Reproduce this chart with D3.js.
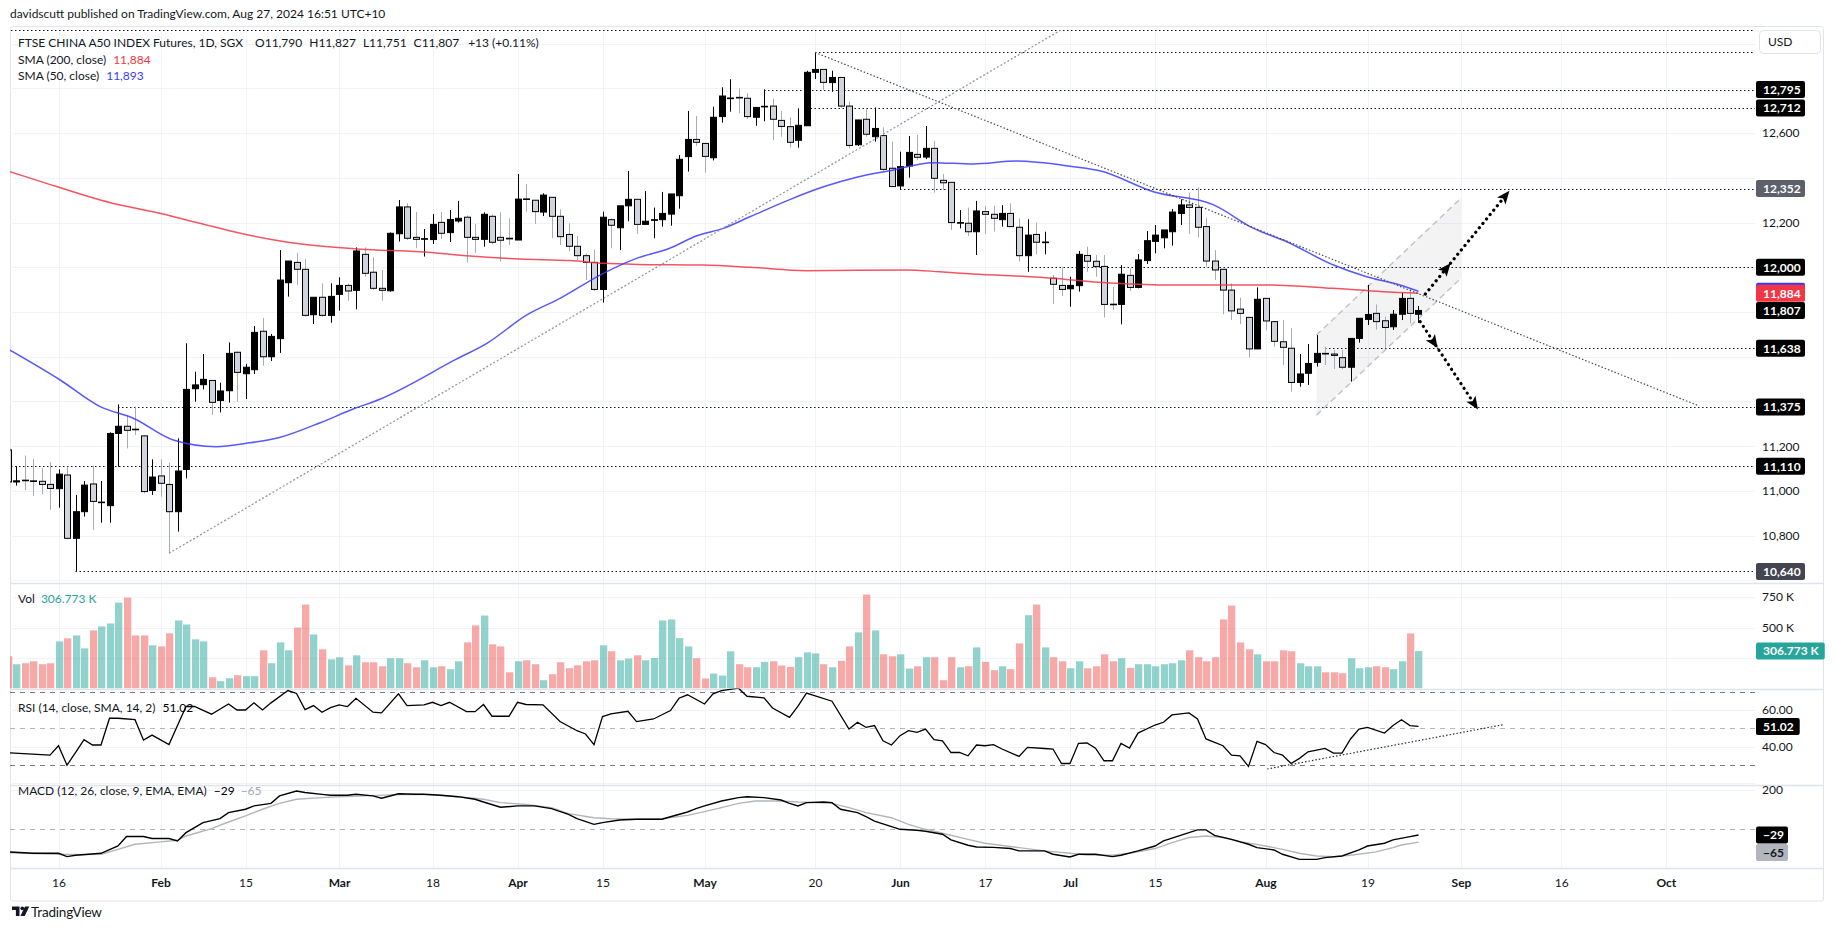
<!DOCTYPE html>
<html><head><meta charset="utf-8">
<script src="https://cdn.jsdelivr.net/npm/d3@7/dist/d3.min.js"></script>
<style>
html,body{margin:0;padding:0;background:#fff;}
svg{display:block;font-family:Lato,"Liberation Sans",Arial,sans-serif;}
</style></head>
<body>
<svg id="chart" width="1835" height="931"></svg>
<script>
// ---------------- DATA ----------------
const firstBar = -1; // bar index of first candle (Jan 8, 2024); one bar per weekday
const opens = [11183,
11040,11048,11045,11043,11029,11010,11071,10788,10907,11031,
10948,10934,11257,11289,11276,11246,11002,11067,11029,10907,
11096,11457,11475,11494,11404,11448,11620,11524,11542,11714,
11600,11681,11931,12022,11991,11788,11866,11785,11879,11919,
11897,12058,11978,11906,11895,12150,12270,12134,12126,12124,
12201,12155,12207,12224,12134,12125,12228,12134,12130,12122,
12306,12300,12247,12313,12228,12147,12094,12052,12022,11901,
12213,12177,12275,12304,12192,12210,12213,12238,12320,12495,
12572,12554,12490,12674,12755,12760,12756,12671,12718,12721,
12657,12629,12568,12633,12872,12885,12826,12849,12721,12548,
12662,12584,12589,12443,12364,12453,12505,12493,12532,12389,
12380,12198,12197,12159,12249,12237,12213,12241,12179,12052,
12147,12111,11951,11919,11904,11918,12053,12027,12004,11835,
11834,11964,11910,12030,12116,12132,12159,12241,12279,12268,
12182,12028,11991,11898,11813,11776,11635,11861,11757,11667,
11638,11485,11526,11575,11615,11612,11596,11553,11682,11767,
11794,11761,11734,11790,11861,11790];
const highs = [11185,
11111,11158,11143,11101,11128,11096,11108,10982,11044,11113,
11044,11262,11387,11338,11377,11250,11141,11141,11126,11235,
11660,11533,11612,11494,11484,11664,11623,11568,11737,11773,
11702,12077,12028,12065,12037,11866,11928,11928,11955,11928,
12089,12089,12045,11988,12156,12301,12286,12247,12171,12238,
12247,12256,12297,12232,12194,12246,12237,12246,12219,12417,
12373,12300,12331,12313,12259,12197,12140,12062,12080,12249,
12219,12275,12431,12304,12341,12267,12337,12328,12502,12699,
12677,12554,12718,12805,12841,12800,12778,12715,12796,12754,
12699,12671,12711,12879,12961,12885,12879,12849,12741,12659,
12706,12715,12626,12562,12517,12587,12592,12632,12566,12417,
12380,12256,12267,12297,12274,12275,12278,12286,12219,12215,
12200,12159,11966,12000,11958,12073,12092,12055,12055,11913,
12010,11995,12059,12162,12189,12167,12261,12304,12334,12357,
12222,12077,11991,11928,11864,11776,11910,11861,11757,11764,
11727,11612,11657,11697,11645,11630,11630,11682,11772,11921,
11834,11779,11809,11886,11906,11827];
const lows = [11030,
11024,11004,10977,10985,10915,10925,10784,10642,10885,10825,
10858,10858,11108,11190,11250,10989,10982,10974,10721,10818,
11056,11399,11454,11339,11351,11395,11399,11411,11523,11560,
11581,11617,11869,11921,11779,11746,11779,11752,11806,11851,
11812,11958,11899,11851,11891,12115,12122,12085,12048,12104,
12127,12113,12200,12021,12065,12092,12103,12025,12100,12122,
12249,12194,12229,12130,12100,12070,12033,11943,11894,11842,
12085,12077,12206,12149,12190,12130,12182,12186,12262,12428,
12543,12423,12478,12647,12696,12689,12663,12633,12653,12569,
12584,12536,12535,12633,12842,12793,12785,12714,12532,12542,
12584,12562,12428,12361,12349,12401,12480,12484,12334,12346,
12167,12174,12140,12055,12149,12160,12182,12182,12025,11980,
12058,12058,11836,11872,11824,11891,11980,11958,11776,11809,
11745,11894,11906,12015,12062,12085,12097,12189,12149,12134,
12003,11943,11790,11764,11746,11597,11635,11717,11645,11563,
11444,11466,11474,11556,11563,11545,11544,11489,11663,11742,
11722,11638,11720,11764,11749,11751];
const closes = [11040,
11045,11046,11042,11029,11011,11075,10788,10907,11026,10953,
10950,11257,11289,11271,11274,10997,11062,11034,10907,11089,
11454,11474,11499,11396,11447,11615,11530,11553,11709,11600,
11691,11943,12028,11991,11785,11866,11785,11870,11919,11894,
12073,11973,11906,11897,12152,12270,12130,12125,12128,12192,
12152,12214,12219,12134,12125,12237,12112,12121,12127,12305,
12304,12249,12323,12228,12137,12094,12052,12022,11901,12224,
12188,12275,12304,12192,12206,12213,12241,12328,12483,12572,
12559,12496,12671,12766,12757,12758,12674,12715,12720,12662,
12630,12559,12635,12872,12885,12827,12849,12721,12545,12659,
12595,12621,12438,12361,12450,12514,12492,12532,12398,12378,
12200,12200,12159,12252,12237,12219,12241,12182,12052,12144,
12112,12113,11924,11901,11919,12058,12027,12003,11834,11833,
11969,11910,12033,12119,12144,12167,12247,12279,12268,12179,
12028,11988,11898,11805,11794,11635,11857,11760,11669,11642,
11485,11523,11570,11615,11614,11606,11553,11682,11772,11789,
11757,11731,11790,11861,11794,11807];
// volume, thousands of contracts
const volumes = [264,
199,207,223,199,207,386,411,435,329,476,
509,533,704,745,435,435,354,345,452,558,
525,403,386,92,60,84,109,101,101,313,
207,378,313,500,688,443,321,239,256,190,
272,215,215,182,248,248,207,174,231,174,
182,158,223,378,517,598,362,345,133,223,
231,199,68,117,215,166,190,223,231,354,
305,231,245,272,231,250,558,566,413,345,
248,82,122,106,305,199,174,174,218,223,
188,177,256,296,288,199,174,226,345,460,
770,476,280,264,280,163,182,256,256,68,
256,174,182,337,218,150,182,158,370,601,
688,337,256,223,166,223,166,182,280,223,
248,169,199,199,182,199,207,231,313,256,
223,256,566,680,378,321,280,223,223,313,
305,207,182,182,133,133,125,248,166,174,
182,174,158,223,451,306.773];
// moving averages: [bar, price]
const sma200 = [[-1,12431],[2.4,12390],[11.1,12289],[16.9,12242],[21.6,12197],[26.4,12152],[31.1,12118],[35.8,12095],[40.5,12081],[47.5,12070],[53.4,12051],[59.3,12037],[65.2,12030],[69.1,12018],[73.1,12013],[80.8,12010],[86.4,12000],[93,11985],[104.8,11988],[108.7,11980],[112.6,11970],[120.5,11955],[127.5,11933],[135.4,11921],[147.1,11921],[154.9,11906],[160.8,11891],[165,11884]];
const sma50 = [[-1,11636],[5.2,11496],[9.9,11377],[13.8,11325],[18.5,11228],[23.6,11198],[27.1,11213],[31.1,11240],[35.8,11305],[39.6,11365],[42.8,11410],[51.8,11589],[55.4,11660],[60.1,11787],[64,11861],[69.1,11973],[73,12040],[76.9,12085],[80.1,12141],[83.2,12174],[86.4,12227],[91.1,12304],[95,12360],[98.9,12403],[102.8,12432],[107.9,12468],[112.6,12462],[117.7,12475],[124.4,12450],[127.5,12432],[133.8,12338],[140.9,12279],[145.6,12174],[149.5,12114],[155,12010],[158.9,11958],[162.8,11921],[165,11893]];
// RSI (14): [bar, value]
const rsiPoints = [[-1,36.7],[4,35.4],[5,40.5],[6,29.9],[7,36.8],[8,43.8],[9,40.9],[10,40.9],[11,55.5],[12,55.5],[14,54.7],[15,43.6],[16,46.3],[18,41.1],[20,61.9],[21,61.9],[23,57.7],[25,63.3],[26,60.0],[27,60.0],[28,63.9],[29,60.0],[30,63.9],[32,70.6],[33,69.0],[34,60.2],[35,62.4],[36,58.8],[37,61.3],[38,62.8],[39,61.9],[40,66.4],[42,58.8],[43,58.4],[45,68.8],[46,62.4],[48,62.8],[49,64.2],[50,62.4],[51,64.2],[53,59.1],[54,59.1],[55,63.0],[56,56.6],[58,56.6],[59,64.2],[60,63.0],[62,62.8],[64,53.7],[66,48.7],[67,46.9],[68,41.1],[69,56.4],[70,57.9],[72,59.3],[73,53.7],[75,55.1],[77,59.7],[78,66.4],[79,68.3],[81,63.3],[82,68.8],[83,70.6],[85,71.9],[86,67.5],[88,66.6],[89,61.1],[91,56.0],[92,62.1],[93,69.2],[96,64.8],[98,49.6],[99,53.3],[100,50.5],[101,51.5],[102,43.2],[103,40.9],[104,46.0],[105,48.7],[106,47.8],[107,49.6],[108,43.8],[109,43.2],[110,36.8],[111,36.8],[112,35.0],[113,40.9],[114,40.5],[115,41.1],[116,38.7],[118,34.7],[119,39.6],[121,39.0],[122,38.7],[123,30.8],[124,30.8],[125,41.8],[126,42.0],[127,39.2],[128,32.3],[129,32.3],[130,41.8],[131,39.2],[132,47.4],[134,51.8],[135,53.3],[136,57.3],[138,58.4],[139,55.1],[140,44.2],[142,40.5],[143,35.4],[144,35.0],[145,29.2],[146,42.9],[147,41.1],[148,36.8],[149,35.4],[150,30.8],[151,33.6],[152,37.2],[154,39.0],[155,36.5],[156,36.5],[157,44.2],[158,49.6],[159,50.5],[161,47.4],[162,51.5],[163,54.7],[164,51.5],[165,51.02]];
// MACD (12,26,9): [bar, value]
const macdPoints = [[-1,-115],[2,-122],[5,-122],[6,-139],[7,-132],[10,-122],[12,-85],[13,-37],[15,-37],[16,-47],[18,-47],[19,-59],[20,-17],[22,34],[24,54],[25,85],[27,102],[28,119],[30,132],[31,170],[33,195],[34,187],[36,178],[37,173],[39,173],[40,178],[42,170],[43,158],[45,181],[47,178],[48,178],[50,173],[52,166],[54,153],[55,139],[57,112],[59,119],[61,119],[63,105],[65,76],[66,54],[68,25],[69,34],[71,47],[73,51],[76,51],[77,64],[79,88],[80,105],[81,119],[83,144],[85,161],[86,166],[88,161],[90,149],[91,132],[92,119],[93,136],[95,139],[96,136],[97,102],[99,85],[100,64],[101,42],[103,14],[104,0],[106,-5],[107,-10],[109,-25],[110,-54],[112,-81],[113,-90],[115,-92],[117,-98],[118,-110],[121,-110],[122,-127],[124,-141],[125,-127],[127,-127],[129,-139],[130,-132],[132,-110],[134,-85],[135,-59],[137,-31],[139,-3],[140,-3],[141,-31],[143,-51],[145,-76],[146,-93],[148,-105],[149,-127],[151,-153],[153,-153],[154,-144],[156,-136],[158,-105],[159,-85],[161,-71],[162,-54],[164,-37],[165,-29]];
const signalPoints = [[-1,-119],[5,-127],[8,-129],[10,-127],[12,-102],[14,-76],[17,-64],[19,-56],[20,-34],[23,3],[25,37],[27,68],[29,102],[31,132],[33,153],[36,161],[38,166],[41,170],[44,175],[47,178],[49,175],[52,166],[55,153],[57,136],[60,126],[63,110],[65,80],[68,59],[70,54],[73,51],[76,54],[79,71],[81,90],[83,110],[85,132],[87,144],[90,144],[92,139],[94,136],[96,132],[98,110],[100,85],[103,59],[105,25],[107,0],[109,-20],[112,-51],[114,-71],[118,-93],[121,-110],[124,-122],[126,-131],[129,-132],[131,-122],[134,-98],[136,-68],[138,-42],[140,-34],[142,-42],[144,-63],[147,-85],[149,-102],[151,-122],[153,-136],[155,-139],[157,-132],[160,-115],[162,-93],[163,-80],[165,-65]];
// time axis
const tickLabels = ["16","Feb","15","Mar","18","Apr","15","May","20","Jun","17","Jul","15","Aug","19","Sep","16","Oct"];
const tickBars   = [5,17,27,38,49,59,69,81,94,104,114,124,134,147,159,170,181.8,194.1];
const monthLabels = ["Feb","Mar","Apr","May","Jun","Jul","Aug","Sep","Oct"];
const priceTicks = [10600,10800,11000,11200,11400,11600,11800,12000,12200,12400,12600,12800,13000];
const volTicks = [250,500,750];
const rsiTicks = [20,40,60];
const rsiBands = [70,50,30];
const macdTicks = [0,200];
// drawings
const levelPrices = [13060,12961,12795,12712,12352,12000,11638,11375,11110,10640];
const levelStartBars = [-2,94,88,93,104,119,154,12,-2,7];
const trendUp = [[18,10721],[124,13085]];
const trendDown = [[94,12961],[198,11380]];
const channelBars = [153,170];
const channelLow = [11339,11951];
const channelHigh = [11697,12309];
const arrowUp = [[165.8,11880],[175.7,12342]];
const arrowDown = [[165.2,11757],[172,11364]];
const rsiTrend = [[147.2,27.8],[175.1,52.1]];
const priceAxisLabels = [12795,12712,12352,12000,11893,11884,11807,11638,11375,11110,10640];
const lastVolume = 306.773, lastRsi = 51.02, lastMacd = -29, lastSignal = -65;

// ---------------- LAYOUT ----------------
const svg = d3.select('#chart');
const PL = 10, PR = 1755, AXR = 1823, AXL = 1756;
const PANE = {price:[30,583], vol:[583,688.5], rsi:[688.5,785], macd:[785,868]};
const INK = '#131722';
const FONT = 'Lato,"Liberation Sans",Arial,sans-serif';
const x = d3.scaleLinear().domain([0,100]).range([16,866]);
const y = d3.scaleLinear().domain([10600,13000]).range([580.34,43.70]);
const yv = d3.scaleLinear().domain([0,750]).range([688.5,597]);
const yr = d3.scaleLinear().domain([20,60]).range([783.3,710]);
const ym = d3.scaleLinear().domain([0,200]).range([829.3,790]);

const defs = svg.append('defs');
function clip(id,x0,y0,x1,y1){defs.append('clipPath').attr('id',id).append('rect').attr('x',x0).attr('y',y0).attr('width',x1-x0).attr('height',y1-y0);}
clip('cp',PL,PANE.price[0],PR,PANE.price[1]);
clip('cv',PL,PANE.vol[0],PR,PANE.vol[1]);
clip('cr',PL,PANE.rsi[0],PR,PANE.rsi[1]);
clip('cm',PL,PANE.macd[0],PR,PANE.macd[1]);

// frame
svg.append('rect').attr('x',PL+0.5).attr('y',26.5).attr('width',AXR-PL).attr('height',901-26.5).attr('fill','none').attr('stroke','#e0e3eb').attr('rx',2);

// grid
const grid = svg.append('g').attr('stroke','#f0f3fa').attr('stroke-width',1);
grid.selectAll('line.v').data(tickBars).join('line').attr('x1',d=>Math.round(x(d))+0.5).attr('x2',d=>Math.round(x(d))+0.5).attr('y1',PANE.price[0]).attr('y2',PANE.macd[1]);
grid.selectAll('line.p').data(priceTicks).join('line').attr('x1',PL).attr('x2',PR).attr('y1',d=>Math.round(y(d))+0.5).attr('y2',d=>Math.round(y(d))+0.5).attr('clip-path','url(#cp)');
grid.selectAll('line.vv').data(volTicks).join('line').attr('x1',PL).attr('x2',PR).attr('y1',d=>Math.round(yv(d))+0.5).attr('y2',d=>Math.round(yv(d))+0.5);
grid.selectAll('line.r').data(rsiTicks).join('line').attr('x1',PL).attr('x2',PR).attr('y1',d=>Math.round(yr(d))+0.5).attr('y2',d=>Math.round(yr(d))+0.5).attr('clip-path','url(#cr)');
grid.selectAll('line.m').data([200]).join('line').attr('x1',PL).attr('x2',PR).attr('y1',d=>Math.round(ym(d))+0.5).attr('y2',d=>Math.round(ym(d))+0.5);

// pane separators
svg.append('g').selectAll('line').data([PANE.vol[0],PANE.rsi[0],PANE.macd[0],PANE.macd[1]]).join('line')
  .attr('x1',PL).attr('x2',AXR).attr('y1',d=>Math.round(d)+0.5).attr('y2',d=>Math.round(d)+0.5).attr('stroke','#e0e3eb').attr('stroke-width',1.5);

// ---------------- PRICE PANE ----------------
const gp = svg.append('g').attr('clip-path','url(#cp)');
const bars = opens.map((o,i)=>({k:i+firstBar,o,h:highs[i],l:lows[i],c:closes[i],v:volumes[i]}));
const cx = d=>Math.round(x(d.k));
const up = d=>d.c>=d.o;

// channel
const chPoly = [[channelBars[0],channelLow[0]],[channelBars[0],channelHigh[0]],[channelBars[1],channelHigh[1]],[channelBars[1],channelLow[1]]];
gp.append('path').attr('d','M'+chPoly.map(p=>[x(p[0]),y(p[1])].join(',')).join('L')+'Z').attr('fill','#787b86').attr('fill-opacity',0.09);
[channelLow,channelHigh].forEach(arr=>{
  gp.append('line').attr('x1',x(channelBars[0])).attr('y1',y(arr[0])).attr('x2',x(channelBars[1])).attr('y2',y(arr[1]))
   .attr('stroke','#c3c5cb').attr('stroke-width',1.5).attr('stroke-dasharray','6 4');
});

// horizontal levels
gp.selectAll('line.lvl').data(levelPrices).join('line')
  .attr('x1',(d,i)=>x(levelStartBars[i])).attr('x2',PR).attr('y1',d=>Math.round(y(d))+0.5).attr('y2',d=>Math.round(y(d))+0.5)
  .attr('stroke','#131722').attr('stroke-width',1.2).attr('stroke-dasharray','1.5 2.5');

// candles
gp.append('g').selectAll('line').data(bars).join('line')
  .attr('x1',d=>cx(d)+0.5).attr('x2',d=>cx(d)+0.5).attr('y1',d=>y(d.h)).attr('y2',d=>y(d.l))
  .attr('stroke',d=>up(d)?'#000':'#a8abb3').attr('stroke-width',1);
gp.append('g').selectAll('rect').data(bars).join('rect')
  .attr('x',d=>cx(d)-2.5).attr('width',6)
  .attr('y',d=>y(Math.max(d.o,d.c))).attr('height',d=>Math.max(0.6,Math.abs(y(d.o)-y(d.c))))
  .attr('fill',d=>up(d)?'#000':'#d1d4dc').attr('stroke','#000').attr('stroke-width',1);

// SMAs
const lineP = d3.line().x(d=>x(d[0])).y(d=>y(d[1])).curve(d3.curveMonotoneX);
gp.append('path').attr('d',lineP(sma200)).attr('fill','none').attr('stroke','#f23645').attr('stroke-width',1.5).attr('stroke-opacity',0.85);
gp.append('path').attr('d',lineP(sma50)).attr('fill','none').attr('stroke','#3a3aff').attr('stroke-width',1.5).attr('stroke-opacity',0.85);

// trend lines
gp.append('line').attr('x1',x(trendUp[0][0])).attr('y1',y(trendUp[0][1])).attr('x2',x(trendUp[1][0])).attr('y2',y(trendUp[1][1]))
  .attr('stroke','#9598a1').attr('stroke-width',1.3).attr('stroke-dasharray','2 2');
gp.append('line').attr('x1',x(trendDown[0][0])).attr('y1',y(trendDown[0][1])).attr('x2',x(trendDown[1][0])).attr('y2',y(trendDown[1][1]))
  .attr('stroke','#4a4d57').attr('stroke-width',1.2).attr('stroke-dasharray','1.5 2');

// arrows
function arrow(a, heads){
  const x0=x(a[0][0]), y0=y(a[0][1]), x1=x(a[1][0]), y1=y(a[1][1]);
  const ang = Math.atan2(y1-y0,x1-x0)*180/Math.PI;
  const len = Math.hypot(x1-x0,y1-y0);
  gp.append('line').attr('x1',x0).attr('y1',y0).attr('x2',x1-(x1-x0)*10/len).attr('y2',y1-(y1-y0)*10/len)
    .attr('stroke','#000').attr('stroke-width',3.2).attr('stroke-linecap','round').attr('stroke-dasharray','0.1 5.6');
  heads.forEach(t=>{
    const hx=x0+(x1-x0)*t, hy=y0+(y1-y0)*t;
    gp.append('path').attr('d','M0,0 L-13,-5.5 L-10,0 L-13,5.5 Z').attr('fill','#000')
      .attr('transform',`translate(${hx},${hy}) rotate(${ang})`);
  });
}
arrow(arrowUp,[0.3,1]);
arrow(arrowDown,[0.3,1]);

// ---------------- VOLUME ----------------
const gv = svg.append('g').attr('clip-path','url(#cv)');
gv.selectAll('rect').data(bars).join('rect')
  .attr('x',d=>cx(d)-3).attr('width',7.3)
  .attr('y',d=>yv(d.v)).attr('height',d=>yv(0)-yv(d.v))
  .attr('fill',d=>up(d)?'#26a69a':'#ef5350').attr('fill-opacity',0.5);

// ---------------- RSI ----------------
const gr = svg.append('g').attr('clip-path','url(#cr)');
gr.selectAll('line.band').data(rsiBands).join('line')
  .attr('x1',PL).attr('x2',PR).attr('y1',d=>Math.round(yr(d))+0.5).attr('y2',d=>Math.round(yr(d))+0.5)
  .attr('stroke',d=>d===50?'#b2b5be':'#787b86').attr('stroke-width',1).attr('stroke-dasharray','5 5');
gr.append('path').attr('d',d3.line().x(d=>x(d[0])).y(d=>yr(d[1]))(rsiPoints)).attr('fill','none').attr('stroke','#000').attr('stroke-width',1.3);
gr.append('line').attr('x1',x(rsiTrend[0][0])).attr('y1',yr(rsiTrend[0][1])).attr('x2',x(rsiTrend[1][0])).attr('y2',yr(rsiTrend[1][1]))
  .attr('stroke','#2a2e39').attr('stroke-width',1.2).attr('stroke-dasharray','1.5 2');

// ---------------- MACD ----------------
const gm = svg.append('g').attr('clip-path','url(#cm)');
gm.append('line').attr('x1',PL).attr('x2',PR).attr('y1',Math.round(ym(0))+0.5).attr('y2',Math.round(ym(0))+0.5)
  .attr('stroke','#b2b5be').attr('stroke-dasharray','5 5');
const lineM = d3.line().x(d=>x(d[0])).y(d=>ym(d[1]));
gm.append('path').attr('d',lineM(signalPoints)).attr('fill','none').attr('stroke','#b2b5be').attr('stroke-width',1.4);
gm.append('path').attr('d',lineM(macdPoints)).attr('fill','none').attr('stroke','#000').attr('stroke-width',1.4);

// ---------------- AXES ----------------
// value label boxes occupy these y centres; axis tick labels hidden behind them are dropped
const boxYs = priceAxisLabels.map(p=>y(p)).concat([40,yv(lastVolume),yr(lastRsi),ym(lastMacd)]);
const hidden = yy => boxYs.some(b=>Math.abs(b-yy)<13);
function styleAxis(g){g.select('.domain').remove();g.selectAll('.tick line').remove();g.selectAll('text').attr('fill',INK).attr('font-size',12).attr('font-family',FONT);}
const gxa = svg.append('g').attr('transform',`translate(0,${PANE.macd[1]})`)
  .call(d3.axisBottom(x).tickValues(tickBars).tickFormat((d,i)=>tickLabels[i]).tickSize(0).tickPadding(10));
styleAxis(gxa);
gxa.selectAll('text').attr('font-weight',(d,i)=>monthLabels.includes(tickLabels[i])?700:400);

const gpa = svg.append('g').attr('transform',`translate(${AXL+6},0)`)
  .call(d3.axisRight(y).tickValues(priceTicks.filter(p=>!hidden(y(p)))).tickFormat(d3.format(',')).tickSize(0).tickPadding(0));
styleAxis(gpa);
const gva = svg.append('g').attr('transform',`translate(${AXL+6},0)`)
  .call(d3.axisRight(yv).tickValues(volTicks.filter(v=>!hidden(yv(v)))).tickFormat(d=>d+' K').tickSize(0).tickPadding(0));
styleAxis(gva);
const gra = svg.append('g').attr('transform',`translate(${AXL+6},0)`)
  .call(d3.axisRight(yr).tickValues(rsiTicks.filter(v=>!hidden(yr(v))&&yr(v)<PANE.rsi[1]-6)).tickFormat(d3.format('.2f')).tickSize(0).tickPadding(0));
styleAxis(gra);
const gma = svg.append('g').attr('transform',`translate(${AXL+6},0)`)
  .call(d3.axisRight(ym).tickValues(macdTicks.filter(v=>!hidden(ym(v)))).tickFormat(d3.format('d')).tickSize(0).tickPadding(0));
styleAxis(gma);

// axis value labels (boxes)
const special = {12352:'#5d606b',11893:'#3a3aff',11884:'#f23645',10640:'#434651'};
function box(cy, text, bg, fg, fixedW){
  const g = svg.append('g');
  const t = g.append('text').attr('x',AXL+7).attr('y',cy).attr('dy','0.36em').attr('font-size',12).attr('font-weight',700).attr('fill',fg).text(text);
  const w = fixedW || (t.node().getComputedTextLength()+13);
  g.insert('rect','text').attr('x',AXL).attr('y',cy-8.5).attr('width',w).attr('height',17).attr('rx',2).attr('fill',bg);
  return g;
}
priceAxisLabels.forEach(p=>{ if(p===11893){ // hidden under the 11,884 label: only its edge shows
    svg.append('rect').attr('x',AXL).attr('y',y(p)-8.5).attr('width',49).attr('height',17).attr('rx',2).attr('fill',special[p]);
  } else box(y(p), d3.format(',')(p), special[p]||'#000', '#fff', 49); });
box(yv(lastVolume), d3.format('.3f')(lastVolume)+' K', '#26a69a', '#fff');
box(yr(lastRsi), d3.format('.2f')(lastRsi), '#000', '#fff');
const macdY = ym(lastMacd);
box(macdY, '\u221229', '#000', '#fff', 32);
box(Math.max(ym(lastSignal), macdY+17.5), '\u221265', '#b2b5be', INK, 32);

// USD box
svg.append('rect').attr('x',1759.5).attr('y',30.5).attr('width',61).attr('height',23).attr('rx',4).attr('fill','#fff').attr('stroke','#e0e3eb');
svg.append('text').attr('x',1768).attr('y',46).attr('font-size',12).attr('fill',INK).text('USD');

// ---------------- TEXT ----------------
svg.append('text').attr('x',10).attr('y',17.5).attr('font-size',12).attr('fill',INK)
  .text('davidscutt published on TradingView.com, Aug 27, 2024 16:51 UTC+10');
// lay out a row of legend pieces left to right
function row(yy, parts){
  let xx = 18;
  parts.forEach(([t,col,gap])=>{
    const el = svg.append('text').attr('x',xx).attr('y',yy).attr('font-size',12).attr('fill',col||INK).text(t);
    xx += el.node().getComputedTextLength() + (gap||7);
  });
}
row(47,[['FTSE CHINA A50 INDEX Futures, 1D, SGX',null,12],['O11,790'],['H11,827'],['L11,751'],['C11,807',null,9],['+13 (+0.11%)']]);
row(63.5,[['SMA (200, close)'],['11,884','#f23645']]);
row(80,[['SMA (50, close)'],['11,893','#3a3aff']]);
row(602.5,[['Vol',null,6],['306.773 K','#26a69a']]);
row(711.5,[['RSI (14, close, SMA, 14, 2)'],['51.02','#000']]);
row(795,[['MACD (12, 26, close, 9, EMA, EMA)'],['\u221229','#000',6],['\u221265','#a3a6af']]);

// TradingView logo
const lg = svg.append('g').attr('fill',INK);
lg.append('path').attr('d','M12,906.5 h7.5 v9.5 h-3.6 v-6 h-3.9 z');
lg.append('circle').attr('cx',22.3).attr('cy',908.3).attr('r',1.9);
lg.append('path').attr('d','M25,906.5 h4.3 l-4.6,9.5 h-4.3 z');
svg.append('text').attr('x',31).attr('y',916.5).attr('font-size',13.5).attr('fill',INK).attr('letter-spacing','-0.2').text('TradingView');
</script>
</body></html>
